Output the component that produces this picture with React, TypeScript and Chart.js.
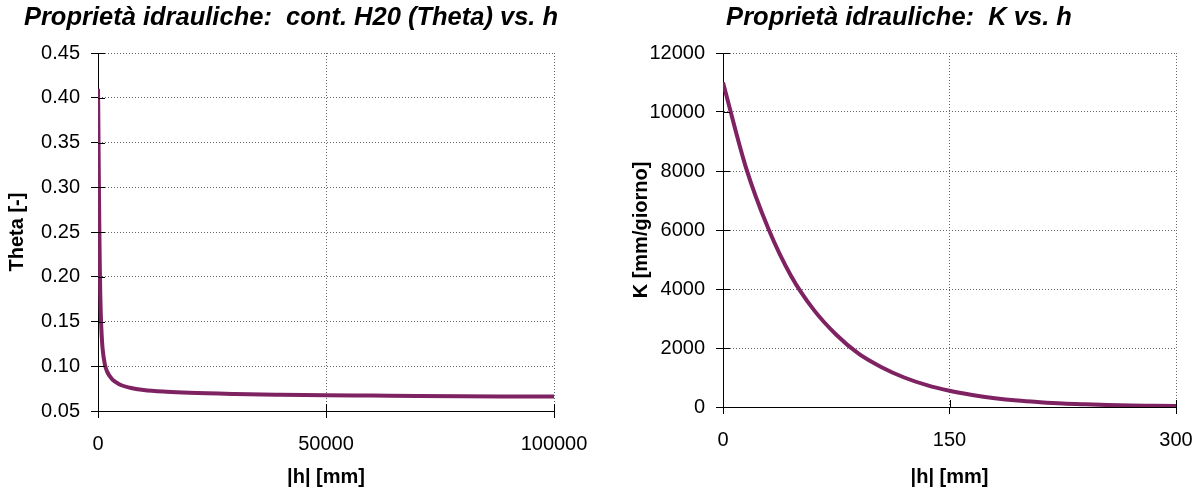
import React, { useEffect, useRef } from "react";
import { Chart, registerables } from "chart.js";

Chart.register(...registerables);

// Left chart: water content Theta vs |h|
const thetaH = [0, 50, 100, 200, 300, 400, 500, 600, 800, 1000, 1500, 2000, 3000, 4000, 5000, 7000, 10000, 15000, 20000, 30000, 40000, 50000, 60000, 70000, 80000, 90000, 100000];
const thetaValues = [0.41, 0.39, 0.36, 0.3, 0.25, 0.21, 0.18, 0.16, 0.135, 0.12, 0.102, 0.094, 0.086, 0.082, 0.079, 0.076, 0.0735, 0.0715, 0.0703, 0.069, 0.0682, 0.0676, 0.0672, 0.0668, 0.0665, 0.0663, 0.0661];
const thetaXTicks = [0, 50000, 100000];
const thetaYTicks = [0.05, 0.1, 0.15, 0.2, 0.25, 0.3, 0.35, 0.4, 0.45];

// Right chart: conductivity K vs |h|
const kH = [0, 15, 30, 45, 60, 75, 90, 105, 120, 135, 150, 165, 180, 195, 210, 225, 240, 255, 270, 285, 300];
const kValues = [11000, 8150, 6050, 4450, 3300, 2450, 1800, 1350, 1000, 740, 550, 410, 300, 220, 165, 120, 90, 65, 50, 40, 30];
const kXTicks = [0, 150, 300];
const kYTicks = [0, 2000, 4000, 6000, 8000, 10000, 12000];

const titles = {
  left: "Proprietà idrauliche:  cont. H20 (Theta) vs. h",
  right: "Proprietà idrauliche:  K vs. h",
};
const axisTitles = { leftY: "Theta [-]", rightY: "K [mm/giorno]", x: "|h| [mm]" };

const FONT = "'Liberation Sans', Arial, sans-serif";
const LINE_COLOR = "#7e2262";

const innerTicks = {
  id: "innerTicks",
  afterDatasetsDraw(chart: any) {
    const { ctx, chartArea, scales } = chart;
    const x = scales.x;
    const y = scales.y;
    ctx.save();
    ctx.strokeStyle = "#000";
    ctx.lineWidth = 1;
    ctx.beginPath();
    x.ticks.forEach((t: any) => {
      const px = Math.round(x.getPixelForValue(t.value)) + 0.5;
      ctx.moveTo(px, chartArea.bottom);
      ctx.lineTo(px, chartArea.bottom - 7);
    });
    y.ticks.forEach((t: any) => {
      const py = Math.round(y.getPixelForValue(t.value)) + 0.5;
      ctx.moveTo(chartArea.left, py);
      ctx.lineTo(chartArea.left + 7, py);
    });
    ctx.stroke();
    ctx.restore();
  },
};

const headTitle = {
  id: "headTitle",
  afterDraw(chart: any, _args: any, opts: any) {
    const { ctx } = chart;
    ctx.save();
    ctx.font = `italic bold ${opts.size}px ${FONT}`;
    ctx.fillStyle = "#000";
    ctx.textAlign = "center";
    ctx.textBaseline = "middle";
    ctx.fillText(opts.text, opts.cx, opts.cy);
    ctx.restore();
  },
};

type Cfg = {
  xs: number[];
  ys: number[];
  xTicks: number[];
  yTicks: number[];
  title: string;
  titleX: number;
  yTitle: string;
  yWidth: number;
  xHeight: number;
  padRight: number;
  yTitlePad: number;
  decimals: number;
};

function ChartBox({ cfg, left, width }: { cfg: Cfg; left: number; width: number }) {
  const ref = useRef<HTMLCanvasElement | null>(null);
  useEffect(() => {
    if (!ref.current) return;
    const data = cfg.xs.map((x, i) => ({ x, y: cfg.ys[i] }));
    const tickFont = { family: FONT, size: 20 };
    const gridCommon = {
      color: "#666",
      lineWidth: 1,
      tickLength: 7,
      tickColor: "#000",
      tickWidth: 1,
      tickBorderDash: [],
    };
    const chart = new Chart(ref.current, {
      type: "line",
      data: {
        datasets: [
          {
            data,
            borderColor: LINE_COLOR,
            borderWidth: 4,
            pointRadius: 0,
            fill: false,
            cubicInterpolationMode: "monotone",
          },
        ],
      },
      options: {
        responsive: false,
        animation: false,
        layout: { padding: { left: 0, right: cfg.padRight, top: 53, bottom: 0 } },
        plugins: {
          legend: { display: false },
          tooltip: { enabled: false },
          title: { display: false },
          headTitle: { text: cfg.title, cx: cfg.titleX, cy: 18, size: 25.5 },
        },
        scales: {
          x: {
            type: "linear",
            min: cfg.xTicks[0],
            max: cfg.xTicks[cfg.xTicks.length - 1],
            afterBuildTicks: (s: any) => {
              s.ticks = cfg.xTicks.map((v) => ({ value: v }));
            },
            afterFit: (s: any) => {
              s.height = cfg.xHeight;
              s.paddingLeft = 0;
              s.paddingRight = 0;
            },
            ticks: {
              color: "#000",
              font: tickFont,
              padding: 14,
              maxRotation: 0,
              callback: (v: any) => String(v),
            },
            grid: gridCommon,
            border: { display: true, color: "#000", width: 1, dash: [1, 2] },
            title: {
              display: true,
              text: axisTitles.x,
              color: "#000",
              font: { family: FONT, size: 20, weight: "bold" },
              padding: { top: 0, bottom: 3 },
            },
          },
          y: {
            type: "linear",
            min: cfg.yTicks[0],
            max: cfg.yTicks[cfg.yTicks.length - 1],
            afterBuildTicks: (s: any) => {
              s.ticks = cfg.yTicks.map((v) => ({ value: v }));
            },
            afterFit: (s: any) => {
              s.width = cfg.yWidth;
            },
            ticks: {
              color: "#000",
              font: tickFont,
              padding: 11,
              callback: (v: any) => Number(v).toFixed(cfg.decimals),
            },
            grid: gridCommon,
            border: { display: true, color: "#000", width: 1, dash: [1, 2] },
            title: {
              display: true,
              text: cfg.yTitle,
              color: "#000",
              font: { family: FONT, size: 20, weight: "bold" },
              padding: { top: cfg.yTitlePad, bottom: 0 },
            },
          },
        },
      },
      plugins: [innerTicks, headTitle],
    } as any);
    return () => chart.destroy();
  }, []);
  return (
    <canvas
      ref={ref}
      width={width}
      height={492}
      style={{ position: "absolute", left, top: 0, width, height: 492, display: "block" }}
    />
  );
}

const leftCfg: Cfg = {
  xs: thetaH,
  ys: thetaValues,
  xTicks: thetaXTicks,
  yTicks: thetaYTicks,
  title: titles.left,
  titleX: 291,
  yTitle: axisTitles.leftY,
  yWidth: 98,
  xHeight: 81,
  padRight: 36,
  yTitlePad: 5,
  decimals: 2,
};

const rightCfg: Cfg = {
  xs: kH,
  ys: kValues,
  xTicks: kXTicks,
  yTicks: kYTicks,
  title: titles.right,
  titleX: 299,
  yTitle: axisTitles.rightY,
  yWidth: 123,
  xHeight: 85,
  padRight: 21,
  yTitlePad: 29,
  decimals: 0,
};

export default function App() {
  return (
    <div style={{ position: "absolute", left: 0, top: 0, width: 1197, height: 492, background: "#fff", overflow: "hidden" }}>
      <ChartBox cfg={leftCfg} left={0} width={590} />
      <ChartBox cfg={rightCfg} left={600} width={597} />
    </div>
  );
}
